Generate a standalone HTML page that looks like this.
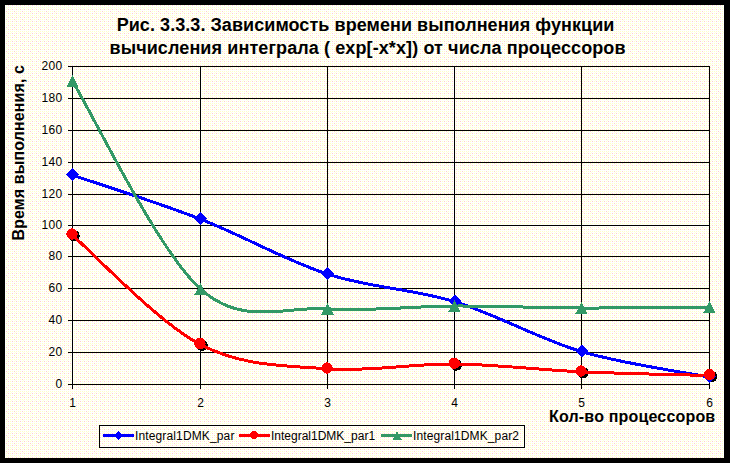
<!DOCTYPE html>
<html><head><meta charset="utf-8"><style>
html,body{margin:0;padding:0;background:#000;overflow:hidden;}
svg{display:block;}
text{font-family:"Liberation Sans",sans-serif;fill:#000;}
.tl{font-size:12px;}
.tt{font-size:18px;font-weight:bold;}
.at{font-size:16px;font-weight:bold;}
.lg{font-size:12px;}
.yl{font-size:12px;letter-spacing:0.4px;}
</style></head><body>
<svg shape-rendering="crispEdges" width="730" height="463" viewBox="0 0 730 463">
<defs>
<pattern id="dots" x="0" y="0" width="8" height="8" patternUnits="userSpaceOnUse">
<rect width="8" height="8" fill="#fff"/>
<rect x="0" y="1" width="1" height="1" fill="#FFCDCD"/><rect x="2" y="1" width="1" height="1" fill="#FFFFC4"/><rect x="4" y="1" width="1" height="1" fill="#FFCDCD"/><rect x="6" y="1" width="1" height="1" fill="#FFFFC4"/><rect x="0" y="3" width="1" height="1" fill="#FFFFC4"/><rect x="2" y="3" width="1" height="1" fill="#FFFFC4"/><rect x="4" y="3" width="1" height="1" fill="#FFFFC4"/><rect x="6" y="3" width="1" height="1" fill="#FFCDCD"/><rect x="0" y="5" width="1" height="1" fill="#FFCDCD"/><rect x="2" y="5" width="1" height="1" fill="#FFFFC4"/><rect x="4" y="5" width="1" height="1" fill="#FFCDCD"/><rect x="6" y="5" width="1" height="1" fill="#FFFFC4"/><rect x="0" y="7" width="1" height="1" fill="#FFFFC4"/><rect x="2" y="7" width="1" height="1" fill="#FFFFC4"/><rect x="4" y="7" width="1" height="1" fill="#FFFFC4"/><rect x="6" y="7" width="1" height="1" fill="#FFFFC4"/><rect x="3" y="0" width="1" height="1" fill="#FFFFE0"/><rect x="7" y="0" width="1" height="1" fill="#FFFFE0"/><rect x="7" y="4" width="1" height="1" fill="#FFFFE0"/>
</pattern>
</defs>
<rect x="0" y="0" width="730" height="463" fill="#000"/>
<rect x="5" y="5" width="719" height="453" fill="url(#dots)"/>
<text x="365.5" y="31" text-anchor="middle" class="tt" textLength="497.7" lengthAdjust="spacing">Рис. 3.3.3. Зависимость времени выполнения функции</text>
<text x="367.5" y="53.5" text-anchor="middle" class="tt" textLength="516" lengthAdjust="spacing">вычисления интеграла ( exp[-x*x]) от числа процессоров</text>
<text transform="translate(24,240.5) rotate(-90)" class="at" textLength="175.5" lengthAdjust="spacing">Время выполнения, с</text>
<text x="549" y="421.5" class="at" textLength="166.2" lengthAdjust="spacing">Кол-во процессоров</text>
<g fill="#000"><rect x="68" y="384" width="642" height="1"/><text x="62.7" y="387.8" text-anchor="end" class="yl">0</text><rect x="68" y="352" width="642" height="1"/><text x="62.7" y="355.8" text-anchor="end" class="yl">20</text><rect x="68" y="320" width="642" height="1"/><text x="62.7" y="323.8" text-anchor="end" class="yl">40</text><rect x="68" y="288" width="642" height="1"/><text x="62.7" y="291.8" text-anchor="end" class="yl">60</text><rect x="68" y="256" width="642" height="1"/><text x="62.7" y="259.8" text-anchor="end" class="yl">80</text><rect x="68" y="225" width="642" height="1"/><text x="62.7" y="228.8" text-anchor="end" class="yl">100</text><rect x="68" y="194" width="642" height="1"/><text x="62.7" y="197.8" text-anchor="end" class="yl">120</text><rect x="68" y="162" width="642" height="1"/><text x="62.7" y="165.8" text-anchor="end" class="yl">140</text><rect x="68" y="130" width="642" height="1"/><text x="62.7" y="133.8" text-anchor="end" class="yl">160</text><rect x="68" y="98" width="642" height="1"/><text x="62.7" y="101.8" text-anchor="end" class="yl">180</text><rect x="68" y="66" width="642" height="1"/><text x="62.7" y="69.8" text-anchor="end" class="yl">200</text><rect x="72" y="66" width="1" height="323"/><text x="72.5" y="407" text-anchor="middle" class="tl">1</text><rect x="200" y="66" width="1" height="323"/><text x="200.5" y="407" text-anchor="middle" class="tl">2</text><rect x="327" y="66" width="1" height="323"/><text x="327.5" y="407" text-anchor="middle" class="tl">3</text><rect x="454" y="66" width="1" height="323"/><text x="454.5" y="407" text-anchor="middle" class="tl">4</text><rect x="581" y="66" width="1" height="323"/><text x="581.5" y="407" text-anchor="middle" class="tl">5</text><rect x="709" y="66" width="1" height="323"/><text x="709.5" y="407" text-anchor="middle" class="tl">6</text></g>
<g fill="#000"><circle cx="74" cy="235.8" r="5.7"/><circle cx="202" cy="345.3" r="5.7"/><circle cx="456.2" cy="365.0" r="5.7"/><circle cx="583" cy="372.8" r="5.7"/><circle cx="711.5" cy="376.5" r="5.7"/></g>
<path d="M72.50,175.10 C93.83,182.43 158.00,202.60 200.50,219.10 C243.00,235.60 285.17,260.35 327.50,274.10 C369.83,287.85 412.17,288.68 454.50,301.60 C496.83,314.52 539.00,339.02 581.50,351.60 C624.00,364.18 688.17,372.85 709.50,377.10" fill="none" stroke="#0000FF" stroke-width="3"/>
<path d="M72.00,234.80 C93.33,253.05 157.50,321.97 200.00,344.30 C242.50,366.63 284.63,365.52 327.00,368.80 C369.37,372.08 411.87,363.50 454.20,364.00 C496.53,364.50 538.45,369.88 581.00,371.80 C623.55,373.72 688.08,374.88 709.50,375.50" fill="none" stroke="#FF0000" stroke-width="3"/>
<path d="M72.50,81.25 C93.83,115.88 158.00,251.07 200.50,289.00 C243.00,326.93 285.17,305.97 327.50,308.80 C369.83,311.63 412.17,306.13 454.50,306.00 C496.83,305.87 539.00,307.83 581.50,308.00 C624.00,308.17 688.17,307.17 709.50,307.00" fill="none" stroke="#339966" stroke-width="3"/>
<g fill="#0000FF"><polygon points="72.5,168.0 79.0,174.5 72.5,181.0 66.0,174.5"/><polygon points="200.5,212.0 207.0,218.5 200.5,225.0 194.0,218.5"/><polygon points="327.5,267.0 334.0,273.5 327.5,280.0 321.0,273.5"/><polygon points="454.5,294.5 461.0,301 454.5,307.5 448.0,301"/><polygon points="581.5,344.5 588.0,351 581.5,357.5 575.0,351"/><polygon points="709.5,370.0 716.0,376.5 709.5,383.0 703.0,376.5"/></g>
<g fill="#FF0000"><circle cx="72" cy="234" r="5.7"/><circle cx="200" cy="343.5" r="5.7"/><circle cx="327" cy="368" r="5.7"/><circle cx="454.2" cy="363.2" r="5.7"/><circle cx="581" cy="371" r="5.7"/><circle cx="709.5" cy="374.7" r="5.7"/></g>
<g fill="#339966"><polygon points="72.5,75.35 78.8,87.35 66.2,87.35"/><polygon points="200.5,283.1 206.8,295.1 194.2,295.1"/><polygon points="327.5,302.90000000000003 333.8,314.90000000000003 321.2,314.90000000000003"/><polygon points="454.5,300.1 460.8,312.1 448.2,312.1"/><polygon points="581.5,302.1 587.8,314.1 575.2,314.1"/><polygon points="709.5,301.1 715.8,313.1 703.2,313.1"/></g>
<rect x="99.5" y="425.5" width="425" height="22" fill="none" stroke="#000" stroke-width="1"/>
<rect x="103" y="434" width="31" height="3" fill="#0000FF"/>
<polygon points="118.5,430.5 123,435.5 118.5,440.5 114,435.5" fill="#0000FF"/>
<text x="135" y="440" class="lg" textLength="99.4" lengthAdjust="spacing">Integral1DMK_par</text>
<rect x="239" y="434" width="31" height="3" fill="#FF0000"/>
<circle cx="254" cy="435" r="4" fill="#FF0000"/>
<text x="271" y="440" class="lg">Integral1DMK_par1</text>
<rect x="381" y="434" width="31" height="3" fill="#339966"/>
<polygon points="397,431.5 401.5,439.5 392.5,439.5" fill="#339966"/>
<text x="413" y="440" class="lg" textLength="106" lengthAdjust="spacing">Integral1DMK_par2</text>
</svg>
</body></html>
